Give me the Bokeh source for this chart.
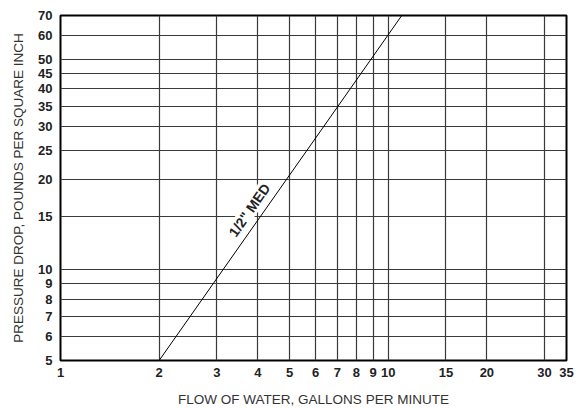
from bokeh.plotting import figure
from bokeh.models import Range1d, FixedTicker, PrintfTickFormatter, Label
from bokeh.embed import file_html
from bokeh.resources import INLINE

# Data
x_ticks = [1, 2, 3, 4, 5, 6, 7, 8, 9, 10, 15, 20, 30, 35]
y_ticks = [5, 6, 7, 8, 9, 10, 15, 20, 25, 30, 35, 40, 45, 50, 60, 70]
flow_gpm = [2.0, 11.0]          # 1/2" MED curve end points
pressure_psi = [5.0, 70.0]
curve_label = '1/2" MED'
label_x = 3.77
label_y = 15.8

FONT = "Liberation Sans"

p = figure(width=583, height=409, x_axis_type="log", y_axis_type="log",
           x_range=Range1d(1, 35), y_range=Range1d(5, 70),
           output_backend="svg", toolbar_location=None,
           min_border_left=60, min_border_right=17,
           min_border_top=15, min_border_bottom=46)

p.background_fill_color = "white"
p.border_fill_color = "white"
p.outline_line_color = "black"
p.outline_line_width = 2

xt = FixedTicker(ticks=x_ticks, minor_ticks=[])
yt = FixedTicker(ticks=y_ticks, minor_ticks=[])
p.xaxis.ticker = xt
p.yaxis.ticker = yt
p.xgrid.ticker = xt
p.ygrid.ticker = yt
for g in (p.xgrid, p.ygrid):
    g.grid_line_color = "#3a3a3a"
    g.grid_line_width = 1.2
    g.grid_line_alpha = 1.0

for ax in (p.xaxis, p.yaxis):
    ax.formatter = PrintfTickFormatter(format="%d")
    ax.axis_line_color = None
    ax.major_tick_line_color = None
    ax.minor_tick_line_color = None
    ax.major_tick_out = 0
    ax.major_tick_in = 0
    ax.major_label_text_font = FONT
    ax.major_label_text_font_style = "bold"
    ax.major_label_text_font_size = "13px"
    ax.major_label_text_color = "#222222"
    ax.axis_label_text_font = FONT
    ax.axis_label_text_font_style = "normal"
    ax.axis_label_text_font_size = "13.5px"
    ax.axis_label_text_color = "#333333"

p.xaxis.axis_label = "FLOW OF WATER, GALLONS PER MINUTE"
p.yaxis.axis_label = "PRESSURE DROP, POUNDS PER SQUARE INCH"
p.xaxis.major_label_standoff = 7
p.xaxis.axis_label_standoff = 12
p.yaxis.major_label_standoff = 8
p.yaxis.axis_label_standoff = 9

p.line(flow_gpm, pressure_psi, line_color="black", line_width=1)

lab = Label(x=label_x, y=label_y, text=curve_label, angle=55, angle_units="deg",
            text_font=FONT, text_font_style="bold", text_font_size="14px",
            text_align="center", text_baseline="middle", text_color="#222222",
            background_fill_color="white", background_fill_alpha=1.0)
p.add_layout(lab)

open("out.html", "w").write(file_html(p, INLINE))
